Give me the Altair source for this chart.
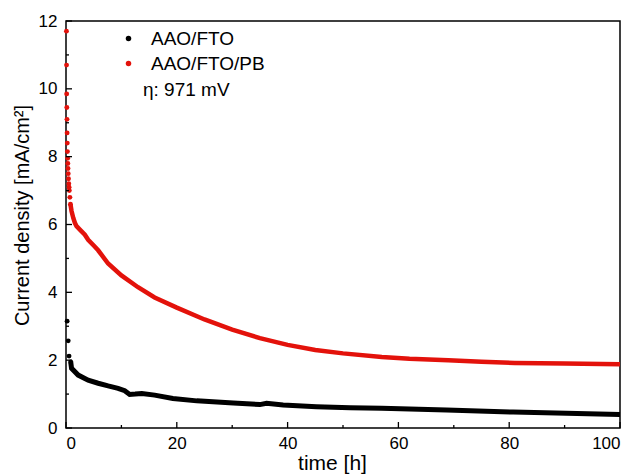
import altair as alt
import pandas as pd

SERIES = ["AAO/FTO", "AAO/FTO/PB"]
COLORS = ["#000000", "#e3120b"]

# Red (AAO/FTO/PB) sparse early points
red_pts_t = [0.08, 0.1, 0.12, 0.15, 0.18, 0.2, 0.23, 0.26, 0.3, 0.33, 0.36, 0.4, 0.45, 0.5, 0.55, 0.6, 0.7, 0.8]
red_pts_j = [11.7, 10.7, 9.85, 9.45, 9.1, 8.7, 8.4, 8.15, 7.95, 7.8, 7.65, 7.5, 7.35, 7.2, 7.1, 7.0, 6.8, 6.6]
# Red dense part
red_t = [0.8, 1.0, 1.3, 1.6, 1.9, 2.5, 3.4, 4.0, 5.0, 5.8, 7.6, 10, 13, 16, 20, 25, 30, 35, 40, 45, 50, 57, 62, 69, 75, 81, 90, 100]
red_j = [6.6, 6.4, 6.2, 6.05, 5.95, 5.85, 5.7, 5.55, 5.38, 5.24, 4.85, 4.5, 4.15, 3.85, 3.55, 3.2, 2.9, 2.65, 2.45, 2.3, 2.2, 2.09, 2.04, 2.0, 1.95, 1.92, 1.9, 1.88]

# Black (AAO/FTO) sparse early points
blk_pts_t = [0.2, 0.4, 0.55, 0.85]
blk_pts_j = [3.15, 2.57, 2.12, 1.95]
# Black dense part
blk_t = [0.85, 1.0, 2.2, 4.0, 5.8, 7.6, 9.4, 10.6, 11.5, 12.5, 13.7, 16, 19.3, 23.6, 30.2, 35, 36.2, 39.2, 45.2, 51.3, 57, 68.7, 80.7, 100]
blk_j = [1.95, 1.76, 1.56, 1.41, 1.32, 1.24, 1.17, 1.1, 0.99, 1.0, 1.02, 0.97, 0.87, 0.80, 0.74, 0.69, 0.73, 0.68, 0.63, 0.6, 0.58, 0.53, 0.47, 0.40]

x_major = [0, 20, 40, 60, 80, 100]
x_minor = [10, 30, 50, 70, 90]
y_major = [0, 2, 4, 6, 8, 10, 12]
y_minor = [1, 3, 5, 7, 9, 11]

FONT = "Liberation Sans"
W, H = 554, 407

blk_df = pd.DataFrame({"t": blk_t, "j": blk_j})
red_df = pd.DataFrame({"t": red_t, "j": red_j})
pts_df = pd.concat([
    pd.DataFrame({"t": blk_pts_t, "j": blk_pts_j, "s": SERIES[0]}),
    pd.DataFrame({"t": red_pts_t, "j": red_pts_j, "s": SERIES[1]}),
])

xs = alt.Scale(domain=[0, 100], nice=False, zero=False)
ys = alt.Scale(domain=[0, 12], nice=False, zero=False)
cs = alt.Scale(domain=SERIES, range=COLORS)

x_axis = alt.Axis(values=x_major, title="time [h]", ticks=False, domain=False, grid=False,
                  labelPadding=7, titlePadding=1, labelFontSize=17, titleFontSize=21,
                  titleX=266, titleAlign="center")
y_axis = alt.Axis(values=y_major, title="Current density [mA/cm\u00b2]", ticks=False, domain=False,
                  grid=False, labelPadding=9, titlePadding=6, labelFontSize=17, titleFontSize=20,
                  titleY=194, titleAlign="center")

blk_line = alt.Chart(blk_df).mark_line(strokeWidth=5, color=COLORS[0]).encode(
    x=alt.X("t:Q", scale=xs, axis=x_axis),
    y=alt.Y("j:Q", scale=ys, axis=y_axis),
)
red_line = alt.Chart(red_df).mark_line(strokeWidth=4.5, color=COLORS[1]).encode(
    x=alt.X("t:Q", scale=xs),
    y=alt.Y("j:Q", scale=ys),
)

pts = alt.Chart(pts_df).mark_circle(size=24, opacity=1).encode(
    x=alt.X("t:Q", scale=xs),
    y=alt.Y("j:Q", scale=ys),
    color=alt.Color("s:N", scale=cs, legend=alt.Legend(
        title=None, orient="none", legendX=53, legendY=8, symbolType="circle",
        symbolSize=30, labelFontSize=19, labelFont=FONT, rowPadding=5, labelOffset=13,
        symbolStrokeWidth=0, symbolOpacity=1)),
)

xmaj = alt.Chart(pd.DataFrame({"v": x_major})).mark_rule(color="black", strokeWidth=1.3).encode(
    x=alt.X("v:Q", scale=xs), y=alt.value(H), y2=alt.value(H - 6))
xmin = alt.Chart(pd.DataFrame({"v": x_minor})).mark_rule(color="black", strokeWidth=1.3).encode(
    x=alt.X("v:Q", scale=xs), y=alt.value(H), y2=alt.value(H - 3))
ymaj = alt.Chart(pd.DataFrame({"v": y_major})).mark_rule(color="black", strokeWidth=1.3).encode(
    y=alt.Y("v:Q", scale=ys), x=alt.value(0), x2=alt.value(6))
ymin = alt.Chart(pd.DataFrame({"v": y_minor})).mark_rule(color="black", strokeWidth=1.3).encode(
    y=alt.Y("v:Q", scale=ys), x=alt.value(0), x2=alt.value(3))

eta = alt.Chart(pd.DataFrame({"txt": ["\u03b7: 971 mV"]})).mark_text(
    align="left", baseline="middle", fontSize=19, font=FONT, color="black").encode(
    x=alt.value(77), y=alt.value(69), text="txt:N")

chart = alt.layer(blk_line, red_line, pts, xmaj, xmin, ymaj, ymin, eta).properties(
    width=W, height=H,
    autosize=alt.AutoSizeParams(type="none"),
    padding={"left": 58, "top": 13, "right": 8, "bottom": 46},
).configure_view(stroke="black", strokeWidth=1.5).configure_axis(
    labelFont=FONT, titleFont=FONT, labelColor="black", titleColor="black", titleFontWeight="normal"
).configure_legend(labelColor="black")

chart.save("out.html", embed_options={"renderer": "svg", "actions": False})
